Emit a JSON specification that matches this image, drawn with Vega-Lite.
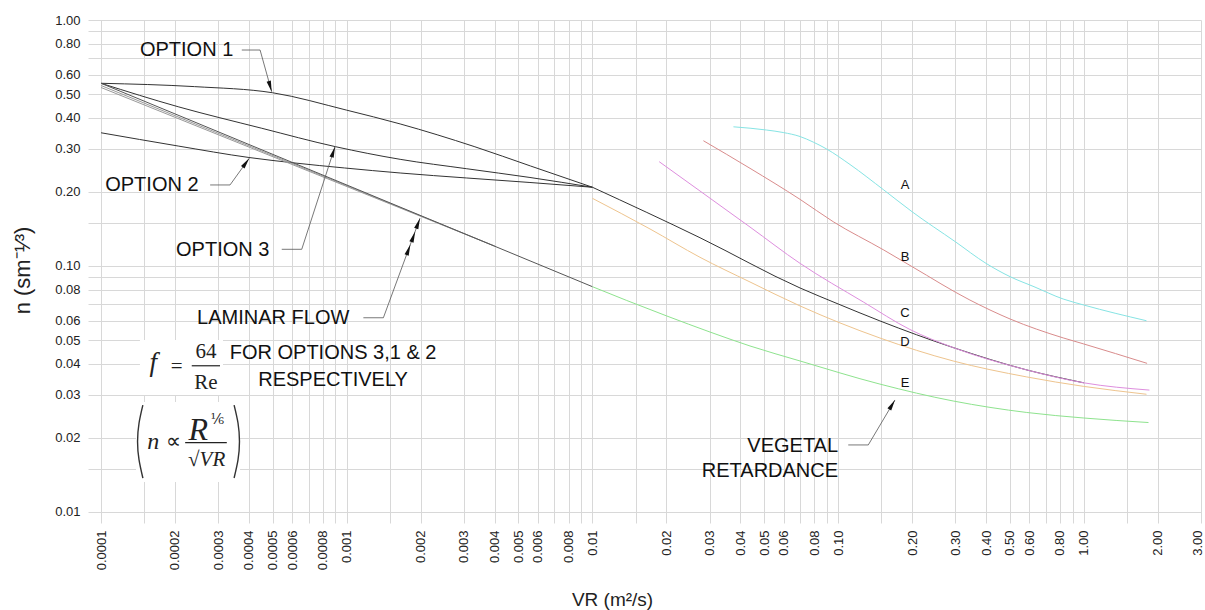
{
  "$schema": "https://vega.github.io/schema/vega-lite/v6.json",
  "width": 1113,
  "height": 503,
  "autosize": {"type": "none"},
  "padding": {"left": 88, "top": 20, "right": 4, "bottom": 87},
  "background": "white",
  "config": {"view": {"stroke": null}, "font": "Liberation Sans"},
  "datasets": {
    "curves": [
      {"s": "opt1", "x": 0.0001, "y": 0.553}, {"s": "opt1", "x": 0.00024, "y": 0.536}, {"s": "opt1", "x": 0.0005, "y": 0.506}, {"s": "opt1", "x": 0.001, "y": 0.43}, {"s": "opt1", "x": 0.00165, "y": 0.378}, {"s": "opt1", "x": 0.0033, "y": 0.306}, {"s": "opt1", "x": 0.0056, "y": 0.255}, {"s": "opt1", "x": 0.01, "y": 0.209},
      {"s": "opt3", "x": 0.0001, "y": 0.553}, {"s": "opt3", "x": 0.000206, "y": 0.444}, {"s": "opt3", "x": 0.000451, "y": 0.363}, {"s": "opt3", "x": 0.0009, "y": 0.3055}, {"s": "opt3", "x": 0.00165, "y": 0.2714}, {"s": "opt3", "x": 0.00308, "y": 0.2485}, {"s": "opt3", "x": 0.00557, "y": 0.229}, {"s": "opt3", "x": 0.01, "y": 0.209},
      {"s": "opt2", "x": 0.0001, "y": 0.348}, {"s": "opt2", "x": 0.000206, "y": 0.3074}, {"s": "opt2", "x": 0.0004, "y": 0.2761}, {"s": "opt2", "x": 0.000616, "y": 0.2622}, {"s": "opt2", "x": 0.00098, "y": 0.2503}, {"s": "opt2", "x": 0.00165, "y": 0.2388}, {"s": "opt2", "x": 0.00308, "y": 0.2279}, {"s": "opt2", "x": 0.00557, "y": 0.2185}, {"s": "opt2", "x": 0.01, "y": 0.209},
      {"s": "merged", "x": 0.01, "y": 0.209}, {"s": "merged", "x": 0.0274, "y": 0.1303}, {"s": "merged", "x": 0.07, "y": 0.0814}, {"s": "merged", "x": 0.1, "y": 0.0701}, {"s": "merged", "x": 0.148, "y": 0.0598}, {"s": "merged", "x": 0.294, "y": 0.0466}, {"s": "merged", "x": 0.586, "y": 0.0378}, {"s": "merged", "x": 1.0, "y": 0.0335},
      {"s": "lam2", "x": 0.0001, "y": 0.5417}, {"s": "lam2", "x": 0.004, "y": 0.1205},
      {"s": "lam3", "x": 0.0001, "y": 0.5316}, {"s": "lam3", "x": 0.004, "y": 0.1205},
      {"s": "lam1", "x": 0.0001, "y": 0.553}, {"s": "lam1", "x": 0.01, "y": 0.0824},
      {"s": "A", "x": 0.0375, "y": 0.368}, {"s": "A", "x": 0.0512, "y": 0.357}, {"s": "A", "x": 0.0598, "y": 0.3488}, {"s": "A", "x": 0.07, "y": 0.336}, {"s": "A", "x": 0.0792, "y": 0.319}, {"s": "A", "x": 0.0899, "y": 0.2988}, {"s": "A", "x": 0.1118, "y": 0.2586}, {"s": "A", "x": 0.1535, "y": 0.2037}, {"s": "A", "x": 0.2, "y": 0.1662}, {"s": "A", "x": 0.3, "y": 0.1255}, {"s": "A", "x": 0.4, "y": 0.1025}, {"s": "A", "x": 0.501, "y": 0.0905}, {"s": "A", "x": 0.627, "y": 0.0824}, {"s": "A", "x": 0.825, "y": 0.0734}, {"s": "A", "x": 1.0, "y": 0.0694}, {"s": "A", "x": 1.8, "y": 0.0599},
      {"s": "B", "x": 0.0283, "y": 0.323}, {"s": "B", "x": 0.0438, "y": 0.2495}, {"s": "B", "x": 0.07, "y": 0.1866}, {"s": "B", "x": 0.0955, "y": 0.1514}, {"s": "B", "x": 0.1535, "y": 0.1161}, {"s": "B", "x": 0.2, "y": 0.0994}, {"s": "B", "x": 0.344, "y": 0.0727}, {"s": "B", "x": 0.501, "y": 0.0609}, {"s": "B", "x": 0.825, "y": 0.051}, {"s": "B", "x": 1.0, "y": 0.0482}, {"s": "B", "x": 1.81, "y": 0.0402},
      {"s": "C", "x": 0.0187, "y": 0.2655}, {"s": "C", "x": 0.0274, "y": 0.2018}, {"s": "C", "x": 0.0438, "y": 0.144}, {"s": "C", "x": 0.07, "y": 0.1025}, {"s": "C", "x": 0.1267, "y": 0.0714}, {"s": "C", "x": 0.196, "y": 0.0552}, {"s": "C", "x": 0.294, "y": 0.0466}, {"s": "C", "x": 0.586, "y": 0.0378}, {"s": "C", "x": 1.0, "y": 0.0335}, {"s": "C", "x": 1.85, "y": 0.0313},
      {"s": "D", "x": 0.01, "y": 0.1884}, {"s": "D", "x": 0.01716, "y": 0.1414}, {"s": "D", "x": 0.0274, "y": 0.1085}, {"s": "D", "x": 0.0438, "y": 0.0861}, {"s": "D", "x": 0.07, "y": 0.0688}, {"s": "D", "x": 0.148, "y": 0.05096}, {"s": "D", "x": 0.294, "y": 0.0411}, {"s": "D", "x": 0.586, "y": 0.0354}, {"s": "D", "x": 1.0, "y": 0.0324}, {"s": "D", "x": 1.8, "y": 0.0301},
      {"s": "E", "x": 0.01, "y": 0.0824}, {"s": "E", "x": 0.0138, "y": 0.0724}, {"s": "E", "x": 0.0201, "y": 0.0626}, {"s": "E", "x": 0.0301, "y": 0.0539}, {"s": "E", "x": 0.0438, "y": 0.0473}, {"s": "E", "x": 0.07, "y": 0.0411}, {"s": "E", "x": 0.148, "y": 0.0331}, {"s": "E", "x": 0.294, "y": 0.02826}, {"s": "E", "x": 0.586, "y": 0.02538}, {"s": "E", "x": 1.0, "y": 0.0241}, {"s": "E", "x": 1.834, "y": 0.0231}
    ],
    "notes": [
      {"t": "OPTION 1", "x": 0.000144, "y": 0.755, "a": "left"},
      {"t": "OPTION 2", "x": 0.000104, "y": 0.2135, "a": "left"},
      {"t": "OPTION 3", "x": 0.000202, "y": 0.1161, "a": "left"},
      {"t": "LAMINAR FLOW", "x": 0.000246, "y": 0.0613, "a": "left"},
      {"t": "FOR OPTIONS 3,1 & 2", "x": 0.00088, "y": 0.0442, "a": "center"},
      {"t": "RESPECTIVELY", "x": 0.00088, "y": 0.0344, "a": "center"},
      {"t": "VEGETAL", "x": 0.1, "y": 0.0186, "a": "right"},
      {"t": "RETARDANCE", "x": 0.1, "y": 0.01472, "a": "right"}
    ],
    "letters": [
      {"t": "A", "x": 0.1872, "y": 0.2135},
      {"t": "B", "x": 0.1872, "y": 0.1085},
      {"t": "C", "x": 0.1872, "y": 0.0646},
      {"t": "D", "x": 0.1872, "y": 0.0492},
      {"t": "E", "x": 0.1872, "y": 0.0334}
    ],
    "leaders": [
      {"id": "o1", "i": 0, "x": 0.000374, "y": 0.755}, {"id": "o1", "i": 1, "x": 0.000444, "y": 0.755}, {"id": "o1", "i": 2, "x": 0.000495, "y": 0.511},
      {"id": "o2", "i": 0, "x": 0.000278, "y": 0.2135}, {"id": "o2", "i": 1, "x": 0.000335, "y": 0.2135}, {"id": "o2", "i": 2, "x": 0.000401, "y": 0.274},
      {"id": "o3", "i": 0, "x": 0.000544, "y": 0.1169}, {"id": "o3", "i": 1, "x": 0.000656, "y": 0.1169}, {"id": "o3", "i": 2, "x": 0.000896, "y": 0.3055},
      {"id": "lf", "i": 0, "x": 0.001169, "y": 0.0616}, {"id": "lf", "i": 1, "x": 0.00141, "y": 0.0616}, {"id": "lf", "i": 2, "x": 0.001987, "y": 0.1563},
      {"id": "vr", "i": 0, "x": 0.11, "y": 0.01873}, {"id": "vr", "i": 1, "x": 0.1327, "y": 0.01873}, {"id": "vr", "i": 2, "x": 0.1704, "y": 0.02853}
    ],
    "arrows": [
      {"id": "o1", "x": 0.000495, "y": 0.511},
      {"id": "o2", "x": 0.000401, "y": 0.274},
      {"id": "o3", "x": 0.000896, "y": 0.3055},
      {"id": "lf", "x": 0.001987, "y": 0.1563},
      {"id": "lf", "x": 0.0019, "y": 0.138},
      {"id": "lf", "x": 0.001816, "y": 0.1222},
      {"id": "vr", "x": 0.1704, "y": 0.02853}
    ],
    "boxes": [
      {"x": 0.000144, "x2": 0.0003136, "y": 0.05, "y2": 0.0299},
      {"x": 0.0001388, "x2": 0.000368, "y": 0.028, "y2": 0.01324}
    ],
    "bars": [
      {"x": 0.000234, "x2": 0.000305, "y": 0.0393},
      {"x": 0.00022, "x2": 0.000325, "y": 0.01913}
    ],
    "parens": [
      {"id": "L", "i": 0, "x": 0.000148, "y": 0.0272}, {"id": "L", "i": 1, "x": 0.0001428, "y": 0.023}, {"id": "L", "i": 2, "x": 0.0001408, "y": 0.01934}, {"id": "L", "i": 3, "x": 0.0001428, "y": 0.01627}, {"id": "L", "i": 4, "x": 0.000148, "y": 0.01374},
      {"id": "R", "i": 0, "x": 0.000348, "y": 0.0272}, {"id": "R", "i": 1, "x": 0.000361, "y": 0.023}, {"id": "R", "i": 2, "x": 0.000366, "y": 0.01934}, {"id": "R", "i": 3, "x": 0.000361, "y": 0.01627}, {"id": "R", "i": 4, "x": 0.000348, "y": 0.01374}
    ],
    "math": [
      {"t": "f", "x": 0.000163, "y": 0.0402, "g": "f"},
      {"t": "n", "x": 0.000163, "y": 0.0193, "g": "n"},
      {"t": "=", "x": 0.000203, "y": 0.039, "g": "rm"},
      {"t": "∝", "x": 0.000197, "y": 0.0193, "g": "rm"},
      {"t": "64", "x": 0.0002675, "y": 0.0448, "g": "rm"},
      {"t": "Re", "x": 0.0002675, "y": 0.0334, "g": "rm"},
      {"t": "R", "x": 0.000249, "y": 0.02154, "g": "big"},
      {"t": "⅙", "x": 0.000297, "y": 0.02366, "g": "sup"},
      {"t": "√VR", "x": 0.000269, "y": 0.01627, "g": "den"}
    ]
  },
  "encoding": {
    "x": {
      "field": "x", "type": "quantitative",
      "scale": {"type": "log", "domain": [0.0000885, 3.0], "nice": false},
      "axis": {
        "values": [0.0001, 0.00015, 0.0002, 0.0003, 0.0004, 0.0005, 0.0006, 0.0007, 0.0008, 0.0009, 0.001, 0.0015, 0.002, 0.003, 0.004, 0.005, 0.006, 0.007, 0.008, 0.009, 0.01, 0.015, 0.02, 0.03, 0.04, 0.05, 0.06, 0.07, 0.08, 0.09, 0.1, 0.15, 0.2, 0.3, 0.4, 0.5, 0.6, 0.7, 0.8, 0.9, 1, 1.5, 2, 3],
        "labelExpr": "(round(datum.value / pow(10, floor(log(datum.value) / LN10 + 1e-9)) * 10) == 15 || round(datum.value / pow(10, floor(log(datum.value) / LN10 + 1e-9)) * 10) == 70 || round(datum.value / pow(10, floor(log(datum.value) / LN10 + 1e-9)) * 10) == 90) ? '' : (datum.value >= 0.095 ? format(datum.value, '.2f') : format(datum.value, '~g'))",
        "labelAngle": 270, "labelAlign": "right",
        "labelBaseline": {"condition": {"test": "datum.value >= 2.9", "value": "alphabetic"}, "value": "middle"},
        "labelPadding": 7, "ticks": false, "tickSize": 0, "domain": false,
        "labelFont": "Liberation Sans", "labelFontSize": 13, "labelColor": "#222", "labelOverlap": false, "labelFlush": false,
        "grid": true, "gridColor": "#d8d8d8", "gridWidth": 1,
        "title": "VR (m²/s)", "titleFont": "Liberation Sans", "titleFontSize": 19, "titleFontWeight": "normal", "titleColor": "#222",
        "titleX": 524, "titleY": 76, "titleBaseline": "middle", "titleAlign": "center"
      }
    },
    "y": {
      "field": "y", "type": "quantitative",
      "scale": {"type": "log", "domain": [0.00902, 1.0], "nice": false},
      "axis": {
        "values": [0.01, 0.015, 0.02, 0.03, 0.04, 0.05, 0.06, 0.07, 0.08, 0.09, 0.1, 0.15, 0.2, 0.3, 0.4, 0.5, 0.6, 0.7, 0.8, 0.9, 1],
        "labelExpr": "(round(datum.value / pow(10, floor(log(datum.value) / LN10 + 1e-9)) * 10) == 15 || round(datum.value / pow(10, floor(log(datum.value) / LN10 + 1e-9)) * 10) == 70 || round(datum.value / pow(10, floor(log(datum.value) / LN10 + 1e-9)) * 10) == 90) ? '' : format(datum.value, '.2f')",
        "labelPadding": 8, "ticks": false, "tickSize": 0, "domain": false,
        "labelFont": "Liberation Sans", "labelFontSize": 13, "labelColor": "#222", "labelOverlap": false, "labelFlush": false,
        "grid": true, "gridColor": "#d8d8d8", "gridWidth": 1,
        "title": "n (sm⁻¹⁄³)", "titleFont": "Liberation Sans", "titleFontSize": 22, "titleFontWeight": "normal", "titleColor": "#222",
        "titleX": -66, "titleY": 250, "titleAngle": 270, "titleBaseline": "middle", "titleAlign": "center"
      }
    }
  },
  "layer": [
    {
      "data": {"name": "boxes"},
      "mark": {"type": "rect", "fill": "white", "stroke": null},
      "encoding": {"x2": {"field": "x2"}, "y2": {"field": "y2"}}
    },
    {
      "data": {"name": "curves"},
      "mark": {"type": "line", "strokeWidth": 1, "interpolate": "monotone"},
      "encoding": {
        "color": {
          "field": "s", "type": "nominal", "legend": null,
          "scale": {
            "domain": ["lam2", "lam3", "lam1", "A", "B", "C", "D", "E", "opt1", "opt2", "opt3", "merged"],
            "range": ["#9a9a9a", "#9a9a9a", "#555555", "#86e4e4", "#d98c8c", "#de8ede", "#eec48e", "#8ee38e", "#333333", "#333333", "#333333", "#333333"]
          }
        },
        "detail": {"field": "s"}
      }
    },
    {
      "data": {"name": "leaders"},
      "mark": {"type": "line", "strokeWidth": 0.8, "color": "#555555"},
      "encoding": {"detail": {"field": "id"}, "order": {"field": "i", "type": "quantitative"}}
    },
    {
      "data": {"name": "arrows"},
      "transform": [{"filter": "datum.id == 'o1'"}],
      "mark": {"type": "point", "shape": "M0,0L0.4,2L-0.4,2Z", "size": 121, "filled": true, "color": "#111111", "opacity": 1, "angle": 164.3}
    },
    {
      "data": {"name": "arrows"},
      "transform": [{"filter": "datum.id == 'o2'"}],
      "mark": {"type": "point", "shape": "M0,0L0.4,2L-0.4,2Z", "size": 121, "filled": true, "color": "#111111", "opacity": 1, "angle": 35.9}
    },
    {
      "data": {"name": "arrows"},
      "transform": [{"filter": "datum.id == 'o3'"}],
      "mark": {"type": "point", "shape": "M0,0L0.4,2L-0.4,2Z", "size": 121, "filled": true, "color": "#111111", "opacity": 1, "angle": 18}
    },
    {
      "data": {"name": "arrows"},
      "transform": [{"filter": "datum.id == 'lf'"}],
      "mark": {"type": "point", "shape": "M0,0L0.4,2L-0.4,2Z", "size": 121, "filled": true, "color": "#111111", "opacity": 1, "angle": 20}
    },
    {
      "data": {"name": "arrows"},
      "transform": [{"filter": "datum.id == 'vr'"}],
      "mark": {"type": "point", "shape": "M0,0L0.4,2L-0.4,2Z", "size": 121, "filled": true, "color": "#111111", "opacity": 1, "angle": 30.7}
    },
    {
      "data": {"name": "notes"},
      "transform": [{"filter": "datum.a == 'left'"}],
      "mark": {"type": "text", "align": "left", "baseline": "middle", "font": "Liberation Sans", "fontSize": 20, "color": "#111111"},
      "encoding": {"text": {"field": "t"}}
    },
    {
      "data": {"name": "notes"},
      "transform": [{"filter": "datum.a == 'center'"}],
      "mark": {"type": "text", "align": "center", "baseline": "middle", "font": "Liberation Sans", "fontSize": 20, "color": "#111111"},
      "encoding": {"text": {"field": "t"}}
    },
    {
      "data": {"name": "notes"},
      "transform": [{"filter": "datum.a == 'right'"}],
      "mark": {"type": "text", "align": "right", "baseline": "middle", "font": "Liberation Sans", "fontSize": 20, "color": "#111111"},
      "encoding": {"text": {"field": "t"}}
    },
    {
      "data": {"name": "letters"},
      "mark": {"type": "text", "align": "center", "baseline": "middle", "font": "Liberation Sans", "fontSize": 13, "color": "#111111"},
      "encoding": {"text": {"field": "t"}}
    },
    {
      "data": {"name": "bars"},
      "mark": {"type": "rule", "strokeWidth": 1.2, "color": "#222222"},
      "encoding": {"x2": {"field": "x2"}}
    },
    {
      "data": {"name": "parens"},
      "mark": {"type": "line", "strokeWidth": 1.4, "color": "#333333", "interpolate": "natural"},
      "encoding": {"detail": {"field": "id"}, "order": {"field": "i", "type": "quantitative"}}
    },
    {
      "data": {"name": "math"},
      "transform": [{"filter": "datum.g == 'f'"}],
      "mark": {"type": "text", "align": "center", "baseline": "middle", "font": "Liberation Serif", "fontStyle": "italic", "fontSize": 27, "color": "#222222"},
      "encoding": {"text": {"field": "t"}}
    },
    {
      "data": {"name": "math"},
      "transform": [{"filter": "datum.g == 'n'"}],
      "mark": {"type": "text", "align": "center", "baseline": "middle", "font": "Liberation Serif", "fontStyle": "italic", "fontSize": 24, "color": "#222222"},
      "encoding": {"text": {"field": "t"}}
    },
    {
      "data": {"name": "math"},
      "transform": [{"filter": "datum.g == 'rm'"}],
      "mark": {"type": "text", "align": "center", "baseline": "middle", "font": "Liberation Serif", "fontSize": 21, "color": "#222222"},
      "encoding": {"text": {"field": "t"}}
    },
    {
      "data": {"name": "math"},
      "transform": [{"filter": "datum.g == 'big'"}],
      "mark": {"type": "text", "align": "center", "baseline": "middle", "font": "Liberation Serif", "fontStyle": "italic", "fontSize": 32, "color": "#222222"},
      "encoding": {"text": {"field": "t"}}
    },
    {
      "data": {"name": "math"},
      "transform": [{"filter": "datum.g == 'sup'"}],
      "mark": {"type": "text", "align": "center", "baseline": "middle", "font": "DejaVu Serif", "fontSize": 14, "color": "#222222"},
      "encoding": {"text": {"field": "t"}}
    },
    {
      "data": {"name": "math"},
      "transform": [{"filter": "datum.g == 'den'"}],
      "mark": {"type": "text", "align": "center", "baseline": "middle", "font": "Liberation Serif", "fontStyle": "italic", "fontSize": 21, "color": "#222222"},
      "encoding": {"text": {"field": "t"}}
    }
  ]
}
